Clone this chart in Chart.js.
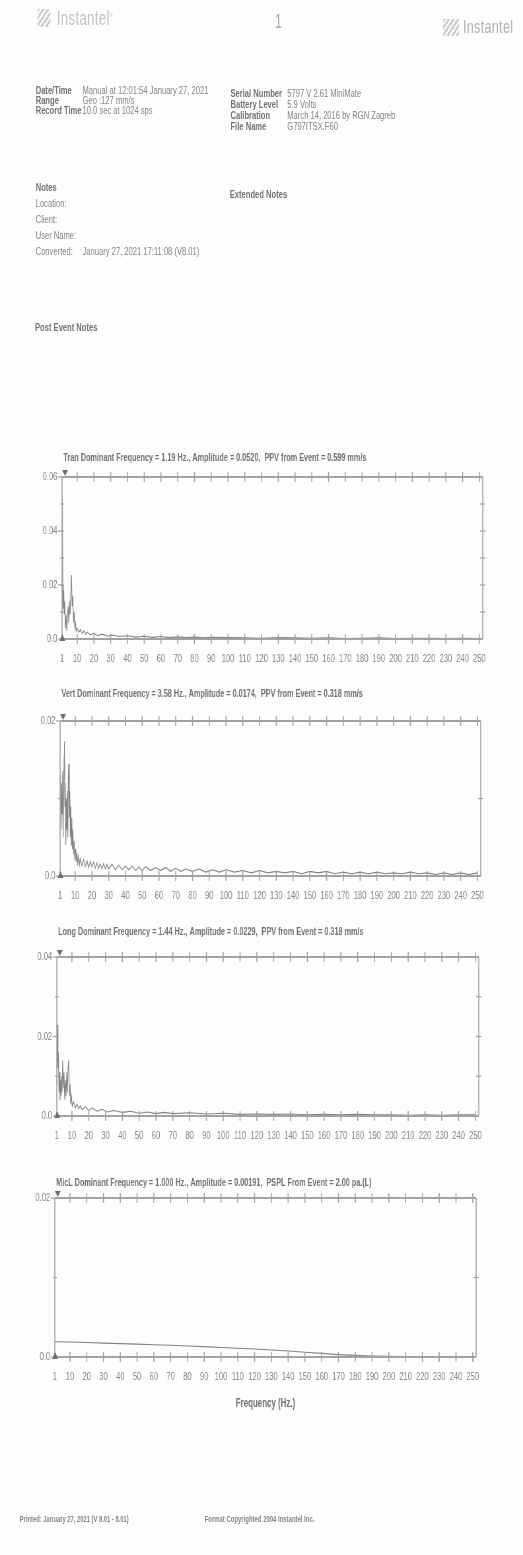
<!DOCTYPE html>
<html><head><meta charset="utf-8">
<script src="https://cdn.jsdelivr.net/npm/chart.js@4.4.1/dist/chart.umd.min.js"></script>
<style>
html,body{margin:0;padding:0;background:#fdfdfd;}
body{width:523px;height:1555px;overflow:hidden;position:relative;}
#page{position:absolute;left:0;top:0;width:792px;height:1555px;transform:scaleX(0.66035);transform-origin:0 0;font-family:"Liberation Sans",Arial,sans-serif;color:#8c8c8c;}
.t{position:absolute;white-space:nowrap;line-height:1;}
.lab{font-family:"Liberation Sans Narrow","Liberation Sans",sans-serif;font-weight:bold;font-size:11.5px;color:#727272;}
.val{font-size:11.5px;color:#838383;}
.logo{font-size:20px;color:#c2c2c2;letter-spacing:0.5px;}
.icon{position:absolute;background:repeating-linear-gradient(135deg,#cfcfcf 0 3px,rgba(0,0,0,0) 3px 5px);}
.foot{font-family:"Liberation Sans Narrow","Liberation Sans",sans-serif;font-weight:bold;font-size:8.8px;color:#858585;}
.chart{position:absolute;left:0;width:792px;}
</style></head>
<body>
<div id="page">
  <div class="icon" style="left:57px;top:9px;width:19px;height:18px;"></div>
  <div class="t logo" style="left:86px;top:8px;">Instantel<sup style="font-size:6px">®</sup></div>
  <div class="t" style="left:416px;top:11px;font-size:20px;color:#ababab;">1</div>
  <div class="icon" style="left:671px;top:19px;width:24px;height:17px;"></div>
  <div class="t logo" style="left:701px;top:17px;font-size:19px;color:#b0b0b0;">Instantel</div>

  <div class="t lab" style="left:54px;top:85px;">Date/Time</div>
  <div class="t lab" style="left:54px;top:95px;">Range</div>
  <div class="t lab" style="left:54px;top:105px;">Record Time</div>
  <div class="t val" style="left:125px;top:85px;">Manual at 12:01:54 January 27, 2021</div>
  <div class="t val" style="left:125px;top:95px;">Geo :127 mm/s</div>
  <div class="t val" style="left:125px;top:105px;">10.0 sec at 1024 sps</div>

  <div class="t lab" style="left:349px;top:88px;">Serial Number</div>
  <div class="t lab" style="left:349px;top:99px;">Battery Level</div>
  <div class="t lab" style="left:349px;top:110px;">Calibration</div>
  <div class="t lab" style="left:349px;top:121px;">File Name</div>
  <div class="t val" style="left:435px;top:88px;">5797 V 2.61 MiniMate</div>
  <div class="t val" style="left:435px;top:99px;">5.9 Volts</div>
  <div class="t val" style="left:435px;top:110px;">March 14, 2016 by RGN Zagreb</div>
  <div class="t val" style="left:435px;top:121px;">G797ITSX.F60</div>

  <div class="t lab" style="left:54px;top:182px;">Notes</div>
  <div class="t val" style="left:54px;top:198px;">Location:</div>
  <div class="t val" style="left:54px;top:214px;">Client:</div>
  <div class="t val" style="left:54px;top:230px;">User Name:</div>
  <div class="t val" style="left:54px;top:246px;">Converted:</div>
  <div class="t val" style="left:125px;top:246px;">January 27, 2021 17:11:08 (V8.01)</div>
  <div class="t lab" style="left:348px;top:189px;">Extended Notes</div>
  <div class="t lab" style="left:53px;top:322px;">Post Event Notes</div>

  <div class="chart" style="top:440px;height:236px;"><canvas id="c1"></canvas></div>
  <div class="chart" style="top:682px;height:248px;"><canvas id="c2"></canvas></div>
  <div class="chart" style="top:920px;height:230px;"><canvas id="c3"></canvas></div>
  <div class="chart" style="top:1168px;height:247px;"><canvas id="c4"></canvas></div>

  <div class="t foot" style="left:30px;top:1515px;">Printed: January 27, 2021 (V 8.01 - 8.01)</div>
  <div class="t foot" style="left:310px;top:1515px;font-size:9px;">Format Copyrighted 2004 Instantel Inc.</div>
</div>
<script>
// ---------- DATA ----------
const xTicks = [1,10,20,30,40,50,60,70,80,90,100,110,120,130,140,150,160,170,180,190,200,210,220,230,240,250];

const tranTitle = 'Tran Dominant Frequency = 1.19 Hz., Amplitude = 0.0520,  PPV from Event = 0.599 mm/s';
const tranYTicks = [0,0.02,0.04,0.06];
const tranYLabels = ['0.0','0.02','0.04','0.06'];
const tranYMinor = [0.01,0.02,0.03,0.04,0.05];
const tranFreq = [1.0,1.19,1.4,1.7,2.0,2.3,2.6,3.0,3.4,3.8,4.2,4.6,5.0,5.4,5.8,6.2,6.6,7.0,7.4,7.8,8.2,8.6,9.0,9.5,10,11,12,13,14,15,16,18,20,22,25,28,31,35,40,45,50,55,60,65,70,75,80,85,90,100,110,120,130,140,150,160,170,180,190,200,210,220,230,240,250];
const tranAmp  = [0.012,0.052,0.020,0.011,0.018,0.009,0.014,0.004,0.009,0.003,0.008,0.012,0.006,0.014,0.009,0.017,0.0237,0.012,0.016,0.006,0.010,0.004,0.006,0.003,0.004,0.0025,0.0035,0.002,0.003,0.0018,0.0025,0.0015,0.0022,0.0012,0.0018,0.001,0.0015,0.0009,0.0012,0.0007,0.001,0.0006,0.0009,0.0005,0.0008,0.0005,0.0007,0.0004,0.0006,0.0005,0.0004,0.0003,0.0005,0.0004,0.0003,0.0004,0.0002,0.0003,0.0004,0.0002,0.0003,0.0003,0.0002,0.0003,0.0002];

const vertTitle = 'Vert Dominant Frequency = 3.58 Hz., Amplitude = 0.0174,  PPV from Event = 0.318 mm/s';
const vertYTicks = [0,0.02];
const vertYLabels = ['0.0','0.02'];
const vertYMinor = [0.01];
const vertFreq = [1.0,1.3,1.6,1.9,2.2,2.5,2.8,3.1,3.4,3.58,3.8,4.1,4.4,4.7,5.0,5.3,5.6,5.9,6.2,6.5,6.8,7.1,7.4,7.7,8.0,8.3,8.6,9.0,9.4,9.8,10.2,10.6,11,11.5,12,12.5,13,14,15,16,17,18,19,20,21,22,23,24,25,26,27,28,29,30,32,34,36,38,40,42,44,46,48,50,52,55,58,61,64,67,70,73,76,80,84,88,92,96,100,105,110,115,120,125,130,135,140,145,150,155,160,165,170,175,180,185,190,195,200,205,210,215,220,225,230,235,240,245,250];
const vertAmp  = [0.011,0.013,0.006,0.012,0.008,0.0135,0.005,0.011,0.0155,0.0174,0.009,0.012,0.004,0.010,0.006,0.011,0.005,0.013,0.0145,0.0075,0.011,0.005,0.009,0.004,0.0075,0.0035,0.006,0.0028,0.0045,0.002,0.0035,0.0018,0.003,0.0016,0.0026,0.0014,0.0022,0.0013,0.0021,0.0012,0.002,0.0011,0.0019,0.0012,0.0018,0.001,0.0017,0.001,0.0016,0.0009,0.0016,0.0009,0.0015,0.0009,0.0015,0.0008,0.0014,0.0008,0.0013,0.0008,0.0013,0.0007,0.0012,0.0007,0.0012,0.0007,0.0011,0.0007,0.0011,0.0006,0.001,0.0006,0.0009,0.0006,0.0009,0.0005,0.0008,0.0005,0.0008,0.0005,0.0007,0.0004,0.0007,0.0004,0.0006,0.0004,0.0006,0.0003,0.0006,0.0004,0.0006,0.0003,0.0005,0.0003,0.0005,0.0003,0.0005,0.0003,0.0004,0.0003,0.0005,0.0003,0.0004,0.0002,0.0004,0.0002,0.0004,0.0002,0.0004];

const longTitle = 'Long Dominant Frequency = 1.44 Hz., Amplitude = 0.0229,  PPV from Event = 0.318 mm/s';
const longYTicks = [0,0.02,0.04];
const longYLabels = ['0.0','0.02','0.04'];
const longYMinor = [0.01,0.02,0.03];
const longFreq = [1.0,1.2,1.44,1.7,2.0,2.3,2.6,2.9,3.2,3.5,3.8,4.1,4.5,4.9,5.3,5.7,6.1,6.5,6.9,7.3,7.7,8.1,8.5,8.9,9.3,9.7,10.2,11,12,13,14,15,16,18,20,22,25,28,31,35,40,45,50,55,60,65,70,80,90,100,110,120,130,140,150,160,170,180,190,200,210,220,230,240,250];
const longAmp  = [0.008,0.015,0.0229,0.012,0.016,0.006,0.011,0.004,0.009,0.005,0.010,0.006,0.014,0.007,0.011,0.004,0.009,0.005,0.011,0.006,0.012,0.014,0.005,0.008,0.003,0.005,0.0025,0.0035,0.002,0.003,0.0018,0.0026,0.0016,0.0023,0.0014,0.002,0.0012,0.0017,0.001,0.0014,0.0009,0.0012,0.0007,0.001,0.0006,0.0009,0.0006,0.0008,0.0005,0.0007,0.0004,0.0005,0.0004,0.0005,0.0003,0.0004,0.0003,0.0004,0.0003,0.0003,0.0002,0.0003,0.0002,0.0003,0.0003];

const micTitle = 'MicL Dominant Frequency = 1.000 Hz., Amplitude = 0.00191,  PSPL From Event = 2.00 pa.(L)';
const micYTicks = [0,0.02];
const micYLabels = ['0.0','0.02'];
const micYMinor = [0.01];
const micFreq = [1,10,20,30,40,50,60,70,80,90,100,110,120,130,140,150,160,170,180,190,200,210,220,230,240,250];
const micAmp  = [0.00191,0.00188,0.00182,0.00175,0.00168,0.00162,0.00155,0.00147,0.00139,0.0013,0.0012,0.0011,0.001,0.00088,0.00075,0.0006,0.00045,0.0003,0.0002,0.00013,0.00009,0.00007,0.00006,0.00006,0.00005,0.00005];
const xAxisTitle = 'Frequency (Hz.)';

// ---------- LAYOUT (natural px; page is squeezed horizontally) ----------
const PAGE_W = 792;
const charts = [
  {id:'c1', cTop:440, cH:236, titleY:458, top:477, bottom:639, left:94, right:731, yMax:0.06, title:tranTitle, yTicks:tranYTicks, yLabels:tranYLabels, yMinor:tranYMinor, freq:tranFreq, amp:tranAmp},
  {id:'c2', cTop:682, cH:248, titleY:694, top:721, bottom:876, left:91, right:728, yMax:0.02, title:vertTitle, yTicks:vertYTicks, yLabels:vertYLabels, yMinor:vertYMinor, freq:vertFreq, amp:vertAmp},
  {id:'c3', cTop:920, cH:230, titleY:932, top:957, bottom:1116, left:86, right:725, yMax:0.04, title:longTitle, yTicks:longYTicks, yLabels:longYLabels, yMinor:longYMinor, freq:longFreq, amp:longAmp},
  {id:'c4', cTop:1168, cH:247, titleY:1183, top:1198, bottom:1357, left:83, right:721, yMax:0.02, title:micTitle, yTicks:micYTicks, yLabels:micYLabels, yMinor:micYMinor, freq:micFreq, amp:micAmp, axisTitle:xAxisTitle}
];

const framePlugin = {
  id:'frame',
  afterDatasetsDraw(chart, args, o) {
    const {ctx, chartArea:a, scales:{x, y}} = chart;
    const L = (x1,y1,x2,y2)=>{ctx.beginPath();ctx.moveTo(x1,y1);ctx.lineTo(x2,y2);ctx.stroke();};
    ctx.save();
    ctx.strokeStyle = '#a2a2a2';
    ctx.lineWidth = 2;
    L(a.left, a.top, a.right, a.top);
    L(a.left, a.bottom, a.right, a.bottom);
    ctx.lineWidth = 1.6;
    L(a.left, a.top, a.left, a.bottom);
    L(a.right, a.top, a.right, a.bottom);
    for (const v of o.xTicks) {
      if (v <= 1) continue;
      const px = x.getPixelForValue(v);
      L(px, a.top-5, px, a.top+5);
      L(px, a.bottom-5, px, a.bottom+5);
    }
    ctx.lineWidth = 1.2;
    for (const v of o.yMinor) {
      const py = y.getPixelForValue(v);
      L(a.left-3, py, a.left+3, py);
      L(a.right-4, py, a.right+4, py);
    }
    for (const v of o.yTicks) {
      const py = y.getPixelForValue(v);
      L(a.left-6, py, a.left, py);
    }
    // range markers at the first frequency
    ctx.fillStyle = '#6e6e6e';
    const mx = x.getPixelForValue(x.min);
    ctx.beginPath(); ctx.moveTo(mx, a.top-7); ctx.lineTo(mx+9, a.top-7); ctx.lineTo(mx+4.5, a.top-1); ctx.closePath(); ctx.fill();
    ctx.beginPath(); ctx.moveTo(mx-4, a.bottom+2); ctx.lineTo(mx+5, a.bottom+2); ctx.lineTo(mx+0.5, a.bottom-5); ctx.closePath(); ctx.fill();
    // title
    ctx.font = 'bold 11px "Liberation Sans Narrow", "Liberation Sans", sans-serif';
    ctx.fillStyle = '#707070';
    ctx.textBaseline = 'middle';
    ctx.textAlign = 'left';
    ctx.fillText(o.title, a.left + 2, o.titleY);
    ctx.restore();
  }
};

for (const c of charts) {
  const canvas = document.getElementById(c.id);
  new Chart(canvas, {
    type: 'line',
    data: { datasets: [{
      data: c.freq.map((f,i)=>({x:f, y:c.amp[i]})),
      borderColor:'#838383', borderWidth:1.1, pointRadius:0, tension:0, fill:false
    }]},
    options: {
      responsive:true, maintainAspectRatio:false, animation:false, devicePixelRatio:1,
      layout:{padding:{top:c.top-c.cTop, right:PAGE_W-c.right, left:0, bottom:0}},
      plugins:{legend:{display:false}, tooltip:{enabled:false}, title:{display:false},
        frame:{xTicks:xTicks, yTicks:c.yTicks, yMinor:c.yMinor, title:c.title, titleY:c.titleY-c.cTop}},
      scales:{
        x:{type:'linear', min:1, max:252,
           afterBuildTicks:(s)=>{s.ticks = xTicks.map(v=>({value:v}));},
           afterFit:(s)=>{s.height = c.cTop + c.cH - c.bottom;},
           grid:{display:false, drawTicks:false}, border:{display:false},
           ticks:{autoSkip:false, maxRotation:0, padding:13, color:'#858585',
                  font:{family:'"Liberation Sans", Arial, sans-serif', size:11.5},
                  callback:(v)=>String(v)},
           title:{display:!!c.axisTitle, text:c.axisTitle||'', color:'#707070', padding:{top:0,bottom:4},
                  font:{family:'"Liberation Sans Narrow", "Liberation Sans", sans-serif', size:12, weight:'bold'}}
        },
        y:{type:'linear', min:0, max:c.yMax,
           afterBuildTicks:(s)=>{s.ticks = c.yTicks.map(v=>({value:v}));},
           afterFit:(s)=>{s.width = c.left;},
           grid:{display:false, drawTicks:false}, border:{display:false},
           ticks:{padding:7, color:'#858585',
                  font:{family:'"Liberation Sans", Arial, sans-serif', size:11.5},
                  callback:(v,i)=>c.yLabels[i]}
        }
      }
    },
    plugins:[framePlugin]
  });
}
</script>
</body></html>
